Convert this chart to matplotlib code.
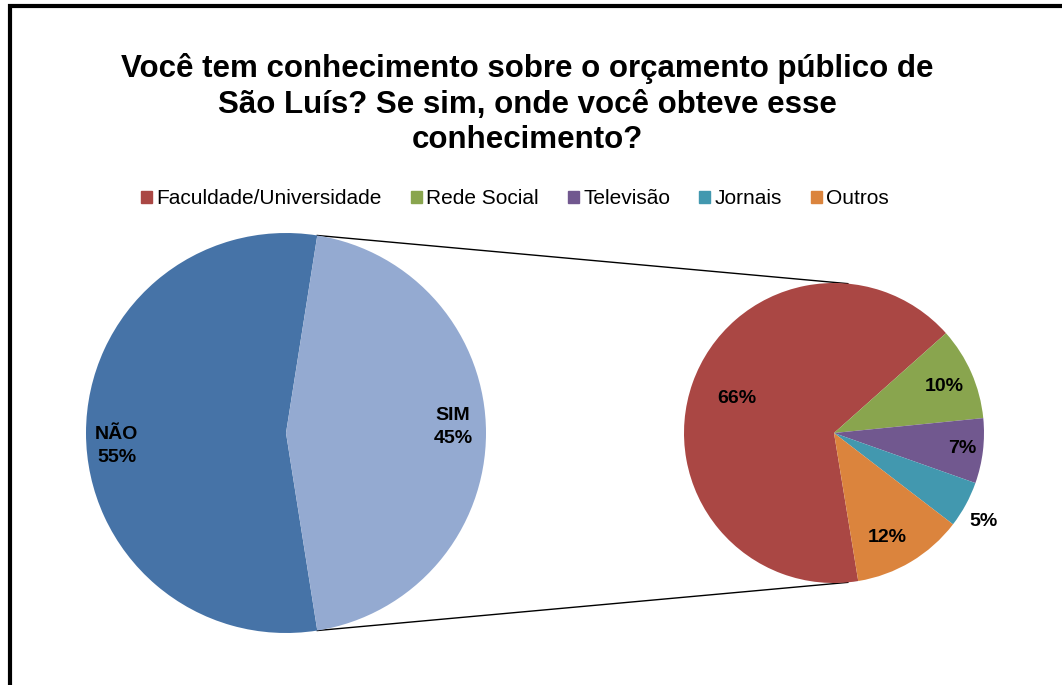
import numpy as np
import matplotlib
matplotlib.use("Agg")
import matplotlib.pyplot as plt
from matplotlib.patches import Patch, Rectangle

plt.rcParams['font.family'] = ['Liberation Sans', 'DejaVu Sans']

# ---------- data ----------
title = ("Você tem conhecimento sobre o orçamento público de\n"
         "São Luís? Se sim, onde você obteve esse\nconhecimento?")
main_labels = ["NÃO", "SIM"]
main_values = [55, 45]
main_colors = ["#4673A7", "#94AAD1"]

sub_labels = ["Faculdade/Universidade", "Rede Social", "Televisão", "Jornais", "Outros"]
sub_values = [66, 10, 7, 5, 12]
sub_colors = ["#AA4744", "#89A54E", "#71588F", "#4298AF", "#DB843D"]

# ---------- layout (pixels) ----------
W, H = 1062, 685
left_c, left_r = (286, H - 433), 200
right_c, right_r = (834, H - 433), 150
main_label_dist = [0.85, 0.836]
main_label_shift = [4.5, 2.2]          # degrees, nudges the label off the mid-angle
sub_label_dist = [0.69, 0.80, 0.86, 1.16, 0.78]
sub_label_shift = [0, -1, 0, -2, -4]

fig = plt.figure(figsize=(W / 100, H / 100), dpi=100)
ax = fig.add_axes([0, 0, 1, 1])

# big pie: SIM centred on the right side
sim_angle = main_values[1] / sum(main_values) * 360
wl, _ = ax.pie(main_values, colors=main_colors, center=left_c, radius=left_r,
               startangle=sim_angle / 2, wedgeprops=dict(linewidth=0),
               frame=True)

# small pie
ws, _ = ax.pie(sub_values, colors=sub_colors, center=right_c, radius=right_r,
               startangle=-80.7, counterclock=False,
               wedgeprops=dict(linewidth=0), frame=True)
ax.set_xlim(0, W)
ax.set_ylim(0, H)
ax.axis("off")

def place_labels(wedges, values, names, center, r, dists, shifts, fs=14):
    tot = sum(values)
    for i, w in enumerate(wedges):
        mid = np.deg2rad((w.theta1 + w.theta2) / 2 + shifts[i])
        x = center[0] + dists[i] * r * np.cos(mid)
        y = center[1] + dists[i] * r * np.sin(mid)
        pct = f"{round(values[i] / tot * 100)}%"
        txt = f"{names[i]}\n{pct}" if names else pct
        ax.text(x, y, txt, ha="center", va="center", fontsize=fs,
                fontweight="bold", linespacing=1.45, color="black")

place_labels(wl, main_values, main_labels, left_c, left_r,
             main_label_dist, main_label_shift)
place_labels(ws, sub_values, None, right_c, right_r,
             sub_label_dist, sub_label_shift)

# connector lines between the SIM wedge and the small pie
a1 = np.deg2rad(sim_angle / 2)
a2 = np.deg2rad(84.7)
for s in (1, -1):
    x0 = left_c[0] + left_r * np.cos(a1)
    y0 = left_c[1] + s * left_r * np.sin(a1)
    x1 = right_c[0] + right_r * np.cos(a2)
    y1 = right_c[1] + s * right_r * np.sin(a2)
    ax.plot([x0, x1], [y0, y1], color="black", lw=1.0, zorder=0)

# title and legend
fig.text(527 / W, 1 - 104 / H, title, ha="center", va="center",
         fontsize=22.5, fontweight="bold", linespacing=1.24)
handles = [Patch(color=c, label=l) for c, l in zip(sub_colors, sub_labels)]
fig.legend(handles=handles, loc="center", bbox_to_anchor=(515 / W, 1 - 199 / H),
           ncol=5, frameon=False, fontsize=15, handlelength=0.53,
           handleheight=0.53, handletextpad=0.2, columnspacing=1.4)

# outer frame (cut off at right and bottom)
ax.add_patch(Rectangle((10, -20), W + 50, H - 5.5 + 20, fill=False,
                       edgecolor="black", lw=3, clip_on=False))

fig.savefig("out.png", dpi=100)
